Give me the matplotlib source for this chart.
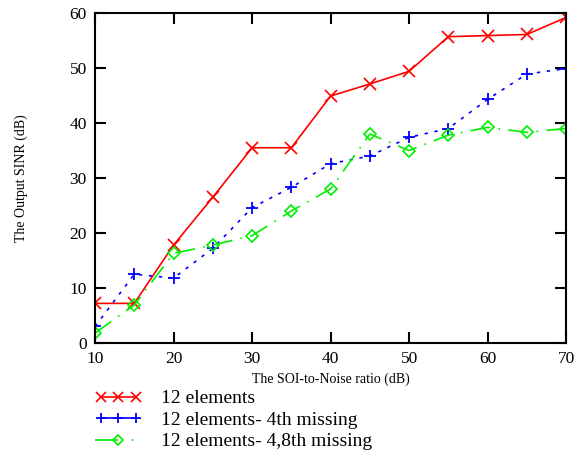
import numpy as np
import matplotlib
matplotlib.use("Agg")
import matplotlib.pyplot as plt
from matplotlib.legend_handler import HandlerLine2D

snr = [10, 15, 20, 25, 30, 35, 40, 45, 50, 55, 60, 65, 70]
sinr_full = [7.2, 7.2, 17.8, 26.5, 35.5, 35.5, 44.9, 47.1, 49.4, 55.7, 55.9, 56.1, 59.2]
sinr_4th = [3.0, 12.5, 11.8, 17.2, 24.6, 28.3, 32.6, 34.0, 37.4, 39.0, 44.3, 48.9, 49.9]
sinr_48th = [1.8, 6.9, 16.3, 17.8, 19.5, 24.0, 28.0, 38.0, 35.0, 37.8, 39.2, 38.3, 39.0]

labels = ["12 elements", "12 elements- 4th missing", "12 elements- 4,8th missing"]

plt.rcParams['font.family'] = ['Liberation Serif', 'DejaVu Serif']

fig = plt.figure(figsize=(5.83, 4.57), dpi=100)
ax = fig.add_axes([0.163, 0.2495, 0.808, 0.722])

l1, = ax.plot(snr, sinr_full, color='#ff0000', lw=1.2, marker='x', ms=9, mew=1.2, label=labels[0])
l2, = ax.plot(snr, sinr_4th, color='#0000ff', lw=1.2, ls=(0, (2, 4)), marker='+', ms=9, mew=1.3, label=labels[1])
l3, = ax.plot(snr, sinr_48th, color='#00ee00', lw=1.2, ls=(0, (12, 5, 1, 5)), marker='D', ms=6, mew=1.2,
              mfc='none', label=labels[2])

ax.set_xlim(10, 70)
ax.set_ylim(0, 60)
ax.set_xticks(range(10, 71, 10))
ax.set_yticks(range(0, 61, 10))
ax.tick_params(direction='in', length=8, width=1.5, top=True, right=True, labelsize=12.5, pad=6)
for s in ax.spines.values():
    s.set_linewidth(1.5)

ax.set_xlabel('The SOI-to-Noise ratio (dB)', fontsize=10, labelpad=4)
ax.set_ylabel('The Output SINR (dB)', fontsize=10, labelpad=30)

# legend handles: small markers, three for the first two rows and one for the last
h1 = plt.Line2D([], [], color='#ff0000', lw=1.2, marker='x', ms=7, mew=1.2)
h2 = plt.Line2D([], [], color='#0000ff', lw=1.2, marker='+', ms=7, mew=1.3)
h3 = plt.Line2D([], [], color='#00ee00', lw=1.2, ls=(0, (14, 8, 1, 8)), marker='D', ms=5, mew=1.2, mfc='none')

fig.legend(handles=[h1, h2, h3], labels=labels, loc='upper left', bbox_to_anchor=(0.163, 0.147),
           frameon=False, fontsize=14, handlelength=2.4, handletextpad=1.0, labelspacing=0.2,
           borderpad=0, borderaxespad=0,
           handler_map={h1: HandlerLine2D(numpoints=3), h2: HandlerLine2D(numpoints=3),
                        h3: HandlerLine2D(numpoints=1)})

fig.savefig('out.png', dpi=100)
